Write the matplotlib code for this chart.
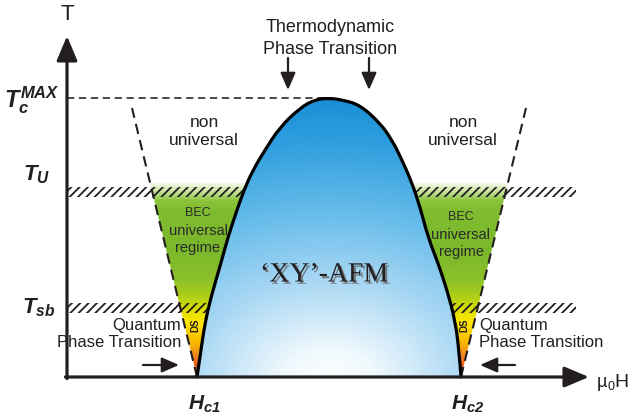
import numpy as np
import matplotlib
matplotlib.use("Agg")
import matplotlib.pyplot as plt
import matplotlib.patheffects as pe
from matplotlib.patches import Polygon, Rectangle, PathPatch
from matplotlib.path import Path
from matplotlib.colors import LinearSegmentedColormap

plt.rcParams["font.family"] = ["Liberation Sans", "DejaVu Sans"]
plt.rcParams["mathtext.fontset"] = "custom"
plt.rcParams["mathtext.it"] = "Liberation Sans:italic:bold"
plt.rcParams["mathtext.rm"] = "Liberation Sans:italic:bold"
plt.rcParams["hatch.linewidth"] = 1.3

INK = "#231f20"

# field / temperature in drawing units, origin where the axes cross
H_C1, H_C2 = 130, 394
T_MAX = 279
T_U = 185
T_SB = 69
BAND = 10
H_END = 509

# phase boundary of the ordered dome
dome_h = [130, 134, 138, 144, 154, 161, 170, 177, 186, 198, 213, 233, 247, 261,
          276, 293, 313, 325, 335, 345, 353, 361, 371, 380, 388, 392, 394]
dome_t = [0, 27, 54, 80, 114, 140, 167, 187, 207, 227, 250, 269, 277, 279,
          277, 272, 254, 237, 217, 194, 170, 140, 114, 87, 57, 27, 0]

# crossover lines bounding the universal regime
cross_left_h = [130, 65]
cross_right_h = [394, 459]
cross_t = [0, 269]
T_FILL = 194

# colour of the universal regime from the QCP upwards
regime_pos = [0, .036, .103, .175, .278, .345, .412, .5, .655, .861, .912, .964, 1]
regime_col = ["#e04818", "#e85018", "#f08020", "#f8b800", "#ffe600", "#dde000",
              "#b0d018", "#8cc02a", "#7ab82a", "#80bc30", "#8cc43c", "#cfe8a8", "#f2f9e6"]
dome_pos = [0, .12, .35, .6, .85, 1]
dome_col = ["#ffffff", "#eef8fd", "#aad8f4", "#66bcea", "#2e9ede", "#1a8ed6"]


def smooth_path(h, t, close=False):
    # quadratic spline through the midpoints of the boundary points
    pts = np.column_stack([h, t]).astype(float)
    verts, codes = [pts[0]], [Path.MOVETO]
    n = len(pts)
    for i in range(1, n - 1):
        end = pts[i + 1] if i == n - 2 else (pts[i] + pts[i + 1]) / 2
        verts += [pts[i], end]
        codes += [Path.CURVE3, Path.CURVE3]
    if close:
        verts.append(pts[0])
        codes.append(Path.CLOSEPOLY)
    return Path(verts, codes)


fig = plt.figure(figsize=(6.39, 4.2), dpi=100)
ax = fig.add_axes([0, 0, 1, 1])
ax.axis("off")

# universal regime, vertical gradient clipped to the two wedges
regime_cmap = LinearSegmentedColormap.from_list("regime", list(zip(regime_pos, regime_col)))
grad = np.linspace(0, 1, 256).reshape(-1, 1)
x_top_l = np.interp(T_FILL, cross_t, cross_left_h)
x_top_r = np.interp(T_FILL, cross_t, cross_right_h)
mid = (H_C1 + H_C2) / 2
for poly in ([(x_top_l, T_FILL), (H_C1, 0), (mid, 0), (mid, T_FILL)],
             [(mid, T_FILL), (x_top_r, T_FILL), (H_C2, 0), (mid, 0)]):
    clip = Polygon(poly, closed=True, fc="none", ec="none")
    ax.add_patch(clip)
    im = ax.imshow(grad, cmap=regime_cmap, origin="lower", aspect="auto",
                   extent=(50, 480, 0, T_FILL), zorder=1)
    im.set_clip_path(clip)

# crossover temperature bands
for t in (T_U, T_SB):
    ax.add_patch(Rectangle((0, t - BAND / 2), H_END, BAND, fc="none", ec=INK,
                           lw=0, hatch="////", zorder=2))

# dashed guides
ax.plot(cross_left_h, cross_t, ls=(0, (5, 3)), lw=1.5, color=INK, zorder=2.5)
ax.plot(cross_right_h, cross_t, ls=(0, (5, 3)), lw=1.5, color=INK, zorder=2.5)
ax.plot([0, 258], [T_MAX, T_MAX], ls=(0, (4, 2.6)), lw=1.3, color="#3a3a3a", zorder=2.5)

# ordered dome with radial gradient
dome_cmap = LinearSegmentedColormap.from_list("dome", list(zip(dome_pos, dome_col)))
gx, gy = np.meshgrid(np.linspace(H_C1 - 5, H_C2 + 5, 300), np.linspace(0, T_MAX + 5, 300))
dist = np.hypot((gx - mid) / 1.4, gy + 5) / 285
dome_patch = PathPatch(smooth_path(dome_h, dome_t, close=True), fc="none", ec="none")
ax.add_patch(dome_patch)
im = ax.imshow(np.clip(dist, 0, 1), cmap=dome_cmap, vmin=0, vmax=1, origin="lower",
               aspect="auto", extent=(H_C1 - 5, H_C2 + 5, 0, T_MAX + 5), zorder=3)
im.set_clip_path(dome_patch)
ax.add_patch(PathPatch(smooth_path(dome_h, dome_t), fc="none", ec="black",
                       lw=2.3, capstyle="round", zorder=4))

# axes with arrow heads
axis_style = "-|>,head_length=1.0,head_width=0.42"
ax.annotate("", xy=(0, 341), xytext=(0, -1.6),
            arrowprops=dict(arrowstyle=axis_style, lw=2.3, color=INK,
                            mutation_scale=15, shrinkA=0, shrinkB=0), zorder=5)
ax.annotate("", xy=(522, 0), xytext=(-1.6, 0),
            arrowprops=dict(arrowstyle=axis_style, lw=2.3, color=INK,
                            mutation_scale=15, shrinkA=0, shrinkB=0), zorder=5)
ax.text(0, 362, "T", fontsize=16, ha="center", va="center", color=INK)
ax.text(530, -10, "\u00b5", fontsize=13, ha="left", va="baseline", color=INK)
ax.text(541, -13, "0", fontsize=9, ha="left", va="baseline", color=INK)
ax.text(547, -10, "H", fontsize=14, ha="left", va="baseline", color=INK)

# axis markers
ax.text(-7, 270, r"$T_c^{MAX}$", fontsize=17, ha="right", va="baseline", color=INK)
ax.text(-17, 197, r"$T_U$", fontsize=16, ha="right", va="baseline", color=INK)
ax.text(-12, 64, r"$T_{sb}$", fontsize=16, ha="right", va="baseline", color=INK)
ax.text(H_C1 + 7, -33, r"$H_{c1}$", fontsize=15, ha="center", va="baseline", color=INK)
ax.text(H_C2 + 7, -33, r"$H_{c2}$", fontsize=15, ha="center", va="baseline", color=INK)

# thermodynamic transition
ax.text(263, 345, "Thermodynamic", fontsize=13, ha="center", va="baseline", color=INK)
ax.text(263, 323, "Phase Transition", fontsize=13, ha="center", va="baseline", color=INK)
small_arrow = dict(arrowstyle="-|>,head_length=0.8,head_width=0.35", lw=1.6,
                   color=INK, mutation_scale=13, shrinkA=0, shrinkB=0)
for x in (221, 302):
    ax.annotate("", xy=(x, 287), xytext=(x, 319), arrowprops=small_arrow)

# regime labels
for x in (137, 396):
    ax.text(x, 250, "non", fontsize=12.5, ha="center", va="baseline", color=INK)
    ax.text(x, 232, "universal", fontsize=12.5, ha="center", va="baseline", color=INK)
for x, y0 in ((131, 164), (394, 160)):
    ax.text(x, y0, "BEC", fontsize=9, ha="center", va="center", color="#2a2a2a")
    ax.text(x, y0 - 18, "universal", fontsize=10.5, ha="center", va="center", color="#2a2a2a")
    ax.text(x, y0 - 35, "regime", fontsize=10.5, ha="center", va="center", color="#2a2a2a")
for x in (128, 397):
    ax.text(x, 52, "DS", fontsize=7, fontweight="bold", rotation=90,
            ha="center", va="center", color=INK)

# quantum transitions at the critical fields
ax.text(H_C1 - 16, 47, "Quantum", fontsize=12, ha="right", va="baseline", color=INK)
ax.text(H_C1 - 16, 30, "Phase Transition", fontsize=12, ha="right", va="baseline", color=INK)
ax.text(H_C2 + 18, 47, "Quantum", fontsize=12, ha="left", va="baseline", color=INK)
ax.text(H_C2 + 18, 30, "Phase Transition", fontsize=12, ha="left", va="baseline", color=INK)
ax.annotate("", xy=(112, 12), xytext=(76, 12), arrowprops=small_arrow)
ax.annotate("", xy=(413, 12), xytext=(448, 12), arrowprops=small_arrow)

ax.text(257, 102, "\u2018XY\u2019-AFM", fontsize=20, family="Liberation Serif",
        ha="center", va="center", color=INK, zorder=6,
        path_effects=[pe.withSimplePatchShadow(offset=(1.6, -1.6),
                                               shadow_rgbFace="#6f6f6f", alpha=0.9)])

ax.set_xlim(-67, 572)
ax.set_ylim(-43, 377)
fig.savefig("out.png", dpi=100)
